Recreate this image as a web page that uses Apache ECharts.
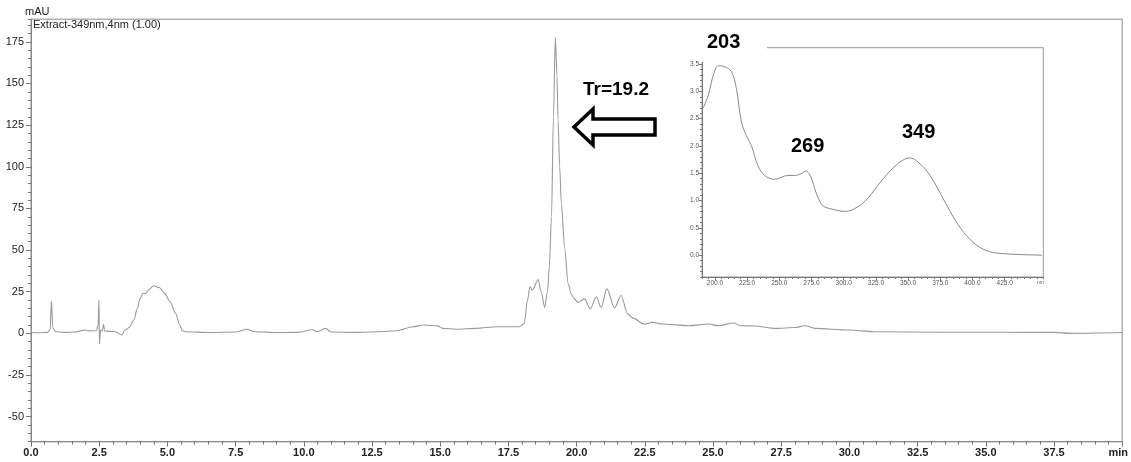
<!DOCTYPE html>
<html>
<head>
<meta charset="utf-8">
<script src="https://cdn.jsdelivr.net/npm/echarts@6/dist/echarts.min.js"></script>
<style>
html,body{margin:0;padding:0;background:#fff;}
#chart{width:1131px;height:462px;}
</style>
</head>
<body>
<div id="chart"></div>
<script>
// Chromatogram (time in min, absorbance in mAU)
const chromTime = [0.0,0.3,0.6,0.7,0.75,0.8,0.9,1.2,1.6,1.9,2.0,2.1,2.4,2.46,2.49,2.51,2.55,2.62,2.66,2.7,2.9,3.1,3.33,3.45,3.6,3.77,3.9,4.0,4.1,4.2,4.3,4.5,4.7,4.9,5.1,5.3,5.45,5.55,5.7,6.5,7.5,7.9,8.2,9.0,9.8,10.3,10.5,10.8,11.0,12.0,12.7,13.4,14.0,14.4,14.9,15.1,15.6,16.3,17.1,17.9,18.08,18.2,18.29,18.38,18.59,18.7,18.83,18.93,19.0,19.08,19.15,19.22,19.28,19.32,19.38,19.44,19.56,19.69,19.8,19.9,20.05,20.29,20.5,20.72,20.9,21.11,21.39,21.63,21.87,22.05,22.48,22.79,23.15,24.12,24.85,25.2,25.76,26.0,26.55,27.28,28.0,28.37,28.74,29.97,30.93,33.4,37.5,38.1,40.0];
const chromMAU  = [0.5,0.4,0.6,2,19.6,3,1.0,0.6,0.8,1.8,2.0,1.5,1.6,5,20,-6.4,2,1.5,5.5,1.5,1.2,1.0,-1,2,3.5,8,15,21,24,23.8,26,28.6,27.5,24,19,12,5,1.5,1,0.5,0.8,2.5,1.0,0.5,0.6,2.2,1.0,3.0,0.8,0.6,1.0,1.6,4.0,5.0,4.5,3.0,2.5,3.0,4.0,4.0,6,20,28,26,32.3,25,15.6,25,40,70,130,177.6,155,128,100,78,51.7,29.7,23.7,21,18.6,20.7,14.7,22,15.6,26.7,15.3,22.7,11.7,9.3,5.6,6.6,5.6,4.6,5.6,4.6,6.2,4.6,4.4,3,3.5,4.6,3,2,1,0.7,0.6,0,0.5];

// UV spectrum of the peak (wavelength nm, absorbance)
const specNm  = [191,194.9,198.8,202.6,207.7,212.9,216.7,220.6,224.4,228.3,233.4,238.6,246.3,256.6,261.7,266.9,270.7,274.6,278.5,283.6,290.0,301.6,310.6,318.3,328.6,338.9,346.6,351.7,359.4,367.1,377.4,387.7,398.0,408.3,418.6,439.1,454];
const specAbs = [2.70,2.93,3.30,3.47,3.45,3.36,3.05,2.44,2.19,2.01,1.64,1.46,1.39,1.46,1.46,1.49,1.54,1.43,1.15,0.91,0.85,0.80,0.88,1.03,1.34,1.61,1.75,1.78,1.67,1.46,1.03,0.60,0.29,0.11,0.04,0.01,0.0];

// Tick label settings
const mainYTicks = [-50,-25,0,25,50,75,100,125,150,175];
const specPeakLabels = ['203','269','349'];
const retentionLabel = 'Tr=19.2';
const channelLabel = 'Extract-349nm,4nm (1.00)';

const chromData = chromTime.map((t,i)=>[t,chromMAU[i]]);
const specData = specNm.map((w,i)=>[w,specAbs[i]]);

const FONT = 'Liberation Sans, Arial, sans-serif';
const axisGray = '#8a8a8a';

const chart = echarts.init(document.getElementById('chart'), null, {renderer:'canvas'});

const option = {
  animation:false,
  backgroundColor:'#fff',
  grid:[
    {left:31, right:2, top:19.3, bottom:20.3, show:true, borderColor:'#b0b0b0', borderWidth:1.5, backgroundColor:'transparent'},
    {left:31, right:2, top:41.8, bottom:45.3, show:false},
    {left:702, right:87.7, top:47.7, bottom:185, show:true, borderColor:'#9a9a9a', borderWidth:1},
    {left:714.9, right:126.3, top:64.1, bottom:206.8, show:false}
  ],
  xAxis:[
    {type:'value', gridIndex:0, position:'bottom', min:0, max:40, interval:0.5,
     axisLine:{show:true, onZero:false, lineStyle:{color:axisGray, width:1}},
     axisTick:{show:true, length:3, lineStyle:{color:'#777'}},
     axisLabel:{show:false}, splitLine:{show:false}},
    {type:'value', gridIndex:0, position:'bottom', offset:0, min:0, max:40, interval:2.5,
     axisLine:{show:false, onZero:false},
     axisTick:{show:true, length:5, lineStyle:{color:'#777'}},
     axisLabel:{show:true, margin:6, fontFamily:FONT, fontSize:11, fontWeight:'bold', color:'#222',
       formatter:v=> v===40 ? '{m|min}' : v.toFixed(1),
       rich:{m:{fontFamily:FONT, fontSize:11, fontWeight:'bold', color:'#222', padding:[0,8,0,0]}}},
     splitLine:{show:false}},
    {type:'value', gridIndex:1, position:'bottom', min:0, max:1, show:false},
    {type:'value', gridIndex:2, position:'bottom', min:190, max:455, interval:5,
     axisLine:{show:true, onZero:false, lineStyle:{color:'#777', width:1}},
     axisTick:{show:true, length:2, lineStyle:{color:'#777'}},
     axisLabel:{show:false}, splitLine:{show:false}},
    {type:'value', gridIndex:3, position:'bottom', min:200, max:425, interval:25, offset:21.8,
     axisLine:{show:false, onZero:false},
     axisTick:{show:true, length:3, lineStyle:{color:'#777'}},
     axisLabel:{show:true, margin:3, fontFamily:FONT, fontSize:6.5, color:'#555', formatter:v=>v.toFixed(1)},
     splitLine:{show:false}}
  ],
  yAxis:[
    {type:'value', gridIndex:0, position:'left', min:-65, max:188.5, interval:5,
     axisLine:{show:true, onZero:false, lineStyle:{color:axisGray, width:1}},
     axisTick:{show:true, length:3, lineStyle:{color:'#777'}},
     axisLabel:{show:false}, splitLine:{show:false}},
    {type:'value', gridIndex:1, position:'left', min:-50, max:175, interval:25,
     axisLine:{show:false, onZero:false},
     axisTick:{show:true, length:5, lineStyle:{color:'#777'}},
     axisLabel:{show:true, margin:7, fontFamily:FONT, fontSize:11, color:'#222',
       formatter:v=> mainYTicks.includes(Math.round(v)) ? String(Math.round(v)) : ''},
     splitLine:{show:false}},
    {type:'value', gridIndex:2, position:'left', min:-0.4, max:3.8, interval:0.1,
     axisLine:{show:true, onZero:false, lineStyle:{color:'#777', width:1}},
     axisTick:{show:true, length:2, lineStyle:{color:'#777'}},
     axisLabel:{show:false}, splitLine:{show:false}},
    {type:'value', gridIndex:3, position:'left', min:0, max:3.5, interval:0.5, offset:12.9,
     axisLine:{show:false, onZero:false},
     axisTick:{show:true, length:3, lineStyle:{color:'#777'}},
     axisLabel:{show:true, margin:3, fontFamily:FONT, fontSize:6.5, color:'#555', formatter:v=>v.toFixed(1)},
     splitLine:{show:false}}
  ],
  series:[
    {type:'line', name:'chromatogram', xAxisIndex:0, yAxisIndex:0, data:chromData,
     showSymbol:false, symbol:'none', smooth:0.3, smoothMonotone:'x',
     lineStyle:{color:'#9a9a9a', width:1.1}, z:3},
    {type:'line', name:'spectrum', xAxisIndex:3, yAxisIndex:2, data:specData,
     showSymbol:false, symbol:'none', smooth:0.35,
     lineStyle:{color:'#8a8a8a', width:1}, z:3}
  ],
  graphic:[
    {type:'text', left:25, top:6, z:100,
     style:{text:'mAU', font:'11px '+FONT, fill:'#222'}},
    {type:'text', left:33, top:19, z:100,
     style:{text:channelLabel, font:'11px '+FONT, fill:'#222'}},
    // white mask behind the "203" label at the inset's upper-left corner
    {type:'rect', z:90, shape:{x:699, y:38, width:68, height:24}, style:{fill:'#fff'}},
    {type:'text', left:707, top:32, z:100,
     style:{text:specPeakLabels[0], font:'bold 20px '+FONT, fill:'#000'}},
    {type:'text', left:791, top:136, z:100,
     style:{text:specPeakLabels[1], font:'bold 20px '+FONT, fill:'#000'}},
    {type:'text', left:902, top:122, z:100,
     style:{text:specPeakLabels[2], font:'bold 20px '+FONT, fill:'#000'}},
    {type:'text', left:1037, top:280, z:100,
     style:{text:'nm', font:'5px '+FONT, fill:'#666'}},
    {type:'text', left:583, top:80, z:100,
     style:{text:retentionLabel, font:'bold 19px '+FONT, fill:'#000'}},
    {type:'polygon', z:100,
     shape:{points:[[574,127],[593,109],[593,119],[655,119],[655,135],[593,135],[593,145]]},
     style:{fill:'#fff', stroke:'#000', lineWidth:3.5, lineJoin:'miter'}}
  ]
};
chart.setOption(option);
</script>
</body>
</html>
